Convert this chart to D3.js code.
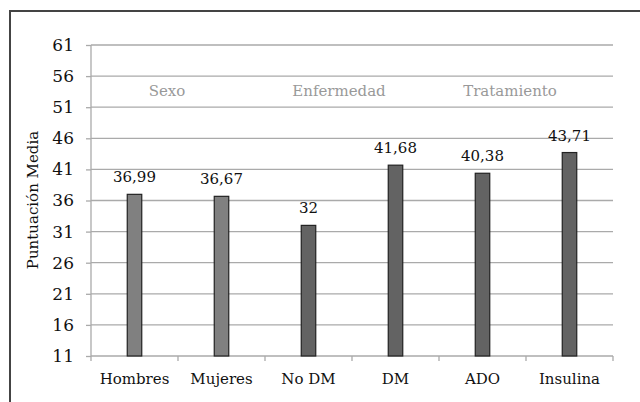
<!DOCTYPE html>
<html><head><meta charset="utf-8">
<script src="https://cdn.jsdelivr.net/npm/d3@7"></script>
<style>body{margin:0;background:#fff}svg{display:block}</style>
</head><body>
<script>
const categories = ["Hombres","Mujeres","No DM","DM","ADO","Insulina"];
const values = [36.99, 36.67, 32, 41.68, 40.38, 43.71];
const valueLabels = ["36,99","36,67","32","41,68","40,38","43,71"];
const groups = ["Sexo","Sexo","Enfermedad","Enfermedad","Tratamiento","Tratamiento"];
const groupLabels = [
  {name:"Sexo", at:167},
  {name:"Enfermedad", at:339},
  {name:"Tratamiento", at:510}
];
const yTicks = [11,16,21,26,31,36,41,46,51,56,61];

const W=640,H=402;
const FONT="DejaVu Serif";
const svg=d3.select("body").append("svg").attr("width",W).attr("height",H)
  .attr("font-family",FONT);

// frame
svg.append("path").attr("d",`M10,${H} L10,11 L${W},11`).attr("fill","none").attr("stroke","#444").attr("stroke-width",2);

const x=d3.scaleBand().domain(categories).range([91,613]);
const y=d3.scaleLinear().domain([11,61]).range([356,45]);

// gridlines
svg.append("g").selectAll("line").data(yTicks.slice(1)).join("line")
  .attr("x1",91).attr("x2",613).attr("y1",d=>y(d)).attr("y2",d=>y(d))
  .attr("stroke","#aaa").attr("stroke-width",1.3);

// y axis
const ya=svg.append("g").attr("transform","translate(91,0)")
  .call(d3.axisLeft(y).tickValues(yTicks).tickSize(5).tickPadding(12));
ya.attr("font-family",FONT);
ya.select(".domain").attr("stroke","#aaa").attr("stroke-width",1.3).attr("d","M0,45V356");
ya.selectAll(".tick line").attr("stroke","#aaa").attr("stroke-width",1.3);
ya.selectAll("text").attr("font-family",FONT).attr("font-size",17).attr("fill","#111");

// x axis
const xa=svg.append("g").attr("transform","translate(0,356)")
  .call(d3.axisBottom(x).tickSize(0).tickPadding(17));
xa.attr("font-family",FONT);
xa.select(".domain").attr("stroke","#aaa").attr("stroke-width",1.3).attr("d","M91,0H613");
xa.selectAll("text").attr("font-family",FONT).attr("font-size",15).attr("fill","#111");
// boundary ticks
svg.append("g").selectAll("line").data(d3.range(categories.length+1)).join("line")
  .attr("x1",i=>91+i*x.step()).attr("x2",i=>91+i*x.step())
  .attr("y1",356).attr("y2",361).attr("stroke","#aaa").attr("stroke-width",1.3);

// bars
const bw=14.5;
svg.append("g").selectAll("rect").data(values).join("rect")
  .attr("x",(d,i)=>x(categories[i])+x.bandwidth()/2-bw/2)
  .attr("width",bw)
  .attr("y",d=>y(d)).attr("height",d=>y(11)-y(d))
  .attr("fill",(d,i)=>groups[i]==="Sexo"?"#808080":"#636363")
  .attr("stroke","#222").attr("stroke-width",1.2);

// value labels
svg.append("g").selectAll("text").data(values).join("text")
  .attr("x",(d,i)=>x(categories[i])+x.bandwidth()/2)
  .attr("y",d=>y(d)-12)
  .attr("text-anchor","middle").attr("font-size",15).attr("fill","#111")
  .text((d,i)=>valueLabels[i]);

// group labels
svg.append("g").selectAll("text").data(groupLabels).join("text")
  .attr("x",d=>d.at).attr("y",96).attr("text-anchor","middle")
  .attr("font-size",15).attr("fill","#999").text(d=>d.name);

// axis title
svg.append("text").attr("transform","translate(38,200) rotate(-90)")
  .attr("text-anchor","middle").attr("font-size",15).attr("fill","#111")
  .text("Puntuación Media");
</script>
</body></html>
